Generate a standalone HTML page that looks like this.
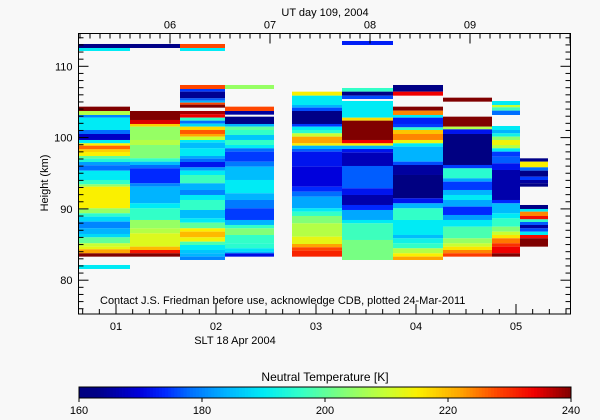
<!DOCTYPE html>
<html><head><meta charset="utf-8"><style>
body{margin:0;background:#f8f8f8;}
svg{display:block;font-family:"Liberation Sans",sans-serif;}
</style></head><body>
<svg id="c" width="600" height="420" xmlns="http://www.w3.org/2000/svg">
<rect width="600" height="420" fill="#f8f8f8"/>
<g id="cells"></g>
<g id="axes"></g>
<g id="cbar"></g>
<text x="325" y="16" font-size="11" text-anchor="middle">UT day 109, 2004</text>
<text x="235" y="344" font-size="11" text-anchor="middle">SLT 18 Apr 2004</text>
<text x="48" y="183" font-size="11" text-anchor="middle" transform="rotate(-90 48 183)">Height (km)</text>
<text x="100" y="304" font-size="11">Contact J.S. Friedman before use, acknowledge CDB, plotted 24-Mar-2011</text>
<text x="325" y="381" font-size="12" text-anchor="middle">Neutral Temperature [K]</text>
</svg>
<script>
const colStart=[0.625,1.14,1.64,2.09,2.76,3.26,3.77,4.27,4.76,5.04];
const colEnd=[1.14,1.64,2.09,2.58,3.26,3.77,4.27,4.76,5.04,5.32];
// runs: [startGate, endGate, temperature K]; gate height 0.4675 km from 108.08 km
const col1=[[-10.8,-9.6,163],[-9.6,-8.7,190],[8,9.3,240],[9.3,10.5,208],[10.5,11.3,180],[11.3,15,190],[15,16.2,178],[16.2,18,168],[18,19,190],[19,19.7,215],[19.7,20.8,226],[20.8,21.6,218],[21.6,22.8,215],[22.8,23.6,200],[23.6,24.6,194],[24.6,25.6,182],[25.6,27.2,178],[27.2,28.5,190],[28.5,30,190],[30,31.3,196],[31.3,32,205],[32,38.5,215],[38.5,40,205],[40,41,195],[41,42.5,188],[42.5,44.5,180],[44.5,46.2,184],[46.2,47.2,188],[47.2,49,200],[49,50,210],[50,50.8,213],[50.8,52,222],[52,53,240],[55.5,56.7,190]];
const col2=[[-10.8,-9.6,163],[9.3,12,240],[12,13.2,235],[13.2,14,218],[14,18,205],[18,19.5,208],[19.5,23.5,203],[23.5,24.5,196],[24.5,25.5,185],[25.5,26.5,178],[26.5,31,174],[31,32,180],[32,37,184],[37,38.5,190],[38.5,42,196],[42,44.5,205],[44.5,46,208],[46,50,212],[50,51,220],[51,52,232],[52,53,240]];
const col3=[[-10.8,-9.6,228],[-9.6,-8.7,190],[1.5,2.7,228],[2.7,3.5,175],[3.5,5.5,164],[5.5,6.2,177],[6.2,6.8,184],[6.8,7.4,228],[7.4,8.3,240],[9.3,10.3,238],[10.3,11.3,234],[11.3,12.2,196],[12.2,13.1,178],[13.1,14,188],[14,15,217],[15,16.2,227],[16.2,17,222],[17,18,210],[18,18.8,190],[18.8,20.5,185],[20.5,22.8,190],[22.8,23.6,183],[23.6,24.6,178],[24.6,26.2,172],[26.2,27.2,182],[27.2,28.5,190],[28.5,31,197],[31,33,184],[33,34.5,180],[34.5,36,190],[36,39,196],[39,41.5,185],[41.5,42.8,190],[42.8,44.5,200],[44.5,45.5,215],[45.5,47.2,220],[47.2,48.5,214],[48.5,49.5,198],[49.5,51,190],[51,52,186],[52,53,184],[53,54,180]];
const col4=[[1.5,2.7,205],[8,9.3,228],[9.3,10.4,165],[11,13.2,162],[13.2,14,184],[14,15,200],[15,16.5,196],[16.5,18,186],[18,19.5,196],[19.5,20.5,190],[20.5,21.5,178],[21.5,24.5,175],[24.5,26,179],[26,30,185],[30,34,190],[34,36,184],[36,38.5,179],[38.5,42,175],[42,43.5,184],[43.5,44.5,196],[44.5,46.5,203],[46.5,49,196],[49,50.5,195],[50.5,51.5,189],[51.5,52,184],[52,53,171]];
const col5=[[3.5,4.7,215],[4.7,7.5,190],[7.5,8.3,184],[8.3,9.3,176],[9.3,13.2,163],[13.2,14,175],[14,15,190],[15,16,195],[16,17,210],[17,19,222],[19,19.7,215],[19.7,20.7,184],[20.7,21.5,177],[21.5,26,172],[26,32,170],[32,33.5,174],[33.5,35,178],[35,38.5,183],[38.5,39.5,190],[39.5,40.8,196],[40.8,43,203],[43,47,208],[47,49.2,213],[49.2,50.2,222],[50.2,51.2,228],[51.2,53,231]];
const col6=[[-11.7,-10.5,173],[2.4,3.5,196],[3.5,4.7,163],[4.7,5.7,176],[6.3,11.3,190],[11.3,12.2,217],[12.2,18,240],[18,19,234],[19,19.7,215],[19.7,20.7,184],[20.7,21.8,172],[21.8,25.8,167],[25.8,32.5,177],[32.5,34.5,172],[34.5,37.5,166],[37.5,39,174],[39,42,183],[42,43,190],[43,48,197],[48,54,202]];
const col7=[[1.5,3.5,162],[3.5,4.7,234],[8,9.2,240],[9.2,10.5,224],[10.5,11.3,190],[11.3,13.2,173],[13.2,14.2,175],[14.2,15,196],[15,16.2,219],[16.2,18,224],[18,19,214],[19,20,190],[20,24.5,184],[24.5,25.5,176],[25.5,28.5,165],[28.5,35.5,161],[35.5,37,172],[37,38.5,184],[38.5,42,196],[42,46.5,190],[46.5,47.5,185],[47.5,49,192],[49,50.5,196],[50.5,52,208],[52,53,215],[53,54,222]];
const col8=[[5.3,6.5,240],[11,14,240],[14,14.8,208],[14.8,16.2,172],[16.2,25.5,161],[25.5,26.5,175],[26.5,29.5,195],[29.5,30.5,183],[30.5,33,175],[33,34.5,184],[34.5,36,190],[36,38,183],[38,40.5,174],[40.5,42,182],[42,44,190],[44,47.5,198],[47.5,49,205],[49,50,210],[50,51,216],[51,52,224],[52,53,229]];
const col9=[[6.3,7.5,190],[7.5,8.2,210],[8.2,9.2,197],[9.2,10.5,178],[13.8,15,190],[15,16,184],[16,17,192],[17,18,204],[18,19.5,214],[19.5,20.5,208],[20.5,21.5,190],[21.5,23,175],[23,25,177],[25,27,172],[27,36,166],[36,37,174],[37,40,185],[40,41.5,190],[41.5,44,196],[44,45.5,203],[45.5,46.5,210],[46.5,47.5,216],[47.5,49,225],[49,50,230],[50,52,234],[52,53,240]];
const col10=[[23.5,24.5,163],[24.5,26.2,215],[26.2,27.2,178],[27.2,29,162],[29,30,175],[30,31,165],[31,32,163],[37.5,38.7,163],[38.7,39.5,190],[39.5,40.8,224],[40.8,41.8,233],[41.8,42.6,196],[42.6,43.5,177],[43.5,44.5,165],[44.5,45.5,176],[45.5,46.5,190],[46.5,47.5,233],[47.5,50,240]];
const columns=[col1,col2,col3,col4,col5,col6,col7,col8,col9,col10];
const yTicks=[80,90,100,110];
const xTicks=[1,2,3,4,5];
const xTickLabels=["01","02","03","04","05"];
const utTicks=[6,7,8,9];
const utTickLabels=["06","07","08","09"];
const cbTicks=[160,180,200,220,240];

const NS="http://www.w3.org/2000/svg";
const L=78.5,R=570.5,T=33.5,B=314;
const xMin=0.625,xMax=5.545;
const X=h=>L+(h-xMin)/(xMax-xMin)*(R-L);
const Y=a=>66.3+(110-a)*7.13;
const gateAlt=g=>108.08-g*0.4675;
const utOffset=4.46;
const stops=[[160,0,0,128],[163,0,0,135],[170,0,0,220],[174,0,40,255],[178,0,110,255],[184,0,180,255],[190,0,235,245],[196,50,255,200],[203,130,255,120],[210,200,255,50],[215,250,240,0],[222,255,165,0],[228,255,70,0],[234,240,0,0],[240,128,0,0]];
function color(t){
  if(t<=stops[0][0])return`rgb(${stops[0].slice(1)})`;
  for(let i=1;i<stops.length;i++){if(t<=stops[i][0]){const a=stops[i-1],b=stops[i],f=(t-a[0])/(b[0]-a[0]);
    return`rgb(${[1,2,3].map(k=>Math.round(a[k]+(b[k]-a[k])*f)).join(',')})`;}}
  return`rgb(128,0,0)`;
}
function mk(tag,attrs,parent){const e=document.createElementNS(NS,tag);for(const k in attrs)e.setAttribute(k,attrs[k]);parent.appendChild(e);return e;}
const cells=document.getElementById('cells');
columns.forEach((col,ci)=>{
  const x0=X(colStart[ci]),x1=X(colEnd[ci]);
  col.forEach(r=>{
    const y0=Y(gateAlt(r[0])),y1=Y(gateAlt(r[1]));
    const e=mk('rect',{x:x0,y:y0,width:x1-x0,height:y1-y0,fill:color(r[2])},cells);
    
    
  });
});
const ax=document.getElementById('axes');
mk('rect',{x:L,y:T,width:R-L,height:B-T,fill:'none',stroke:'#000','stroke-width':1},ax);
for(let a=76;a<=114;a++){const y=Y(a);if(y<T||y>B)continue;const len=a%10===0?10:5;
  mk('line',{x1:L,y1:y,x2:L+len,y2:y,stroke:'#000'},ax);mk('line',{x1:R,y1:y,x2:R-len,y2:y,stroke:'#000'},ax);}
yTicks.forEach(v=>{const t=mk('text',{x:L-6,y:Y(v)+4,'font-size':11,'text-anchor':'end'},ax);t.textContent=v;
  });
for(let m=0;m<=6*6;m++){const h=m/6;const x=X(h);if(x<L||x>R)continue;const len=m%6===0?10:5;mk('line',{x1:x,y1:B,x2:x,y2:B-len,stroke:'#000'},ax);}
xTicks.forEach((v,i)=>{const t=mk('text',{x:X(v),y:B+16,'font-size':11,'text-anchor':'middle'},ax);t.textContent=xTickLabels[i];
  });
for(let m=0;m<=100;m++){const h=5+m/10;const x=X(h-utOffset);if(x<L||x>R)continue;const len=m%10===0?10:5;mk('line',{x1:x,y1:T,x2:x,y2:T+len,stroke:'#000'},ax);}
utTicks.forEach((v,i)=>{const t=mk('text',{x:X(v-utOffset),y:T-5,'font-size':11,'text-anchor':'middle'},ax);t.textContent=utTickLabels[i];
  });
const cb=document.getElementById('cbar');
const cbX=v=>79+(v-160)/80*492;
for(let v=160;v<240;v+=0.5){mk('rect',{x:cbX(v),y:387,width:492/160+0.4,height:11,fill:color(v+0.25)},cb);}
mk('rect',{x:79,y:387,width:492,height:11,fill:'none',stroke:'#000'},cb);
cbTicks.forEach(v=>{mk('line',{x1:cbX(v),y1:398,x2:cbX(v),y2:402,stroke:'#000'},cb);
  const t=mk('text',{x:cbX(v),y:414,'font-size':11,'text-anchor':'middle'},cb);t.textContent=v;
  });
</script>
</body></html>
